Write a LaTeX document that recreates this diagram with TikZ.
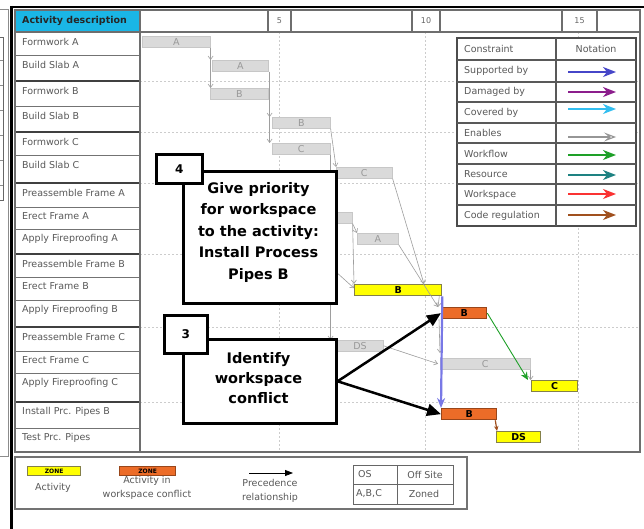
\documentclass[tikz,border=0pt]{standalone}
\usepackage{fontspec}
\usetikzlibrary{arrows.meta,calc}
\newfontfamily\dejavu{DejaVu Sans}
\newcommand\smallsans{\dejavu\fontsize{9.5}{13.5}\selectfont}
\newcommand\tinysans{\dejavu\fontsize{6}{7}\selectfont}
\newcommand\callsans{\dejavu\bfseries\fontsize{14.5}{21.5}\selectfont}
\newcommand\callsanstight{\dejavu\bfseries\fontsize{14.5}{20}\selectfont}

\definecolor{hdrcyan}{RGB}{26,182,230}
\definecolor{barfill}{RGB}{218,218,218}
\definecolor{zoneyellow}{RGB}{255,255,0}
\definecolor{zoneorange}{RGB}{236,108,40}
\definecolor{supblue}{RGB}{70,70,200}
\definecolor{linkblue}{RGB}{120,120,230}
\definecolor{dampurple}{RGB}{140,30,140}
\definecolor{covcyan}{RGB}{50,190,240}
\definecolor{enagray}{RGB}{150,150,150}
\definecolor{wfgreen}{RGB}{30,160,40}
\definecolor{resteal}{RGB}{30,130,130}
\definecolor{wsred}{RGB}{250,50,50}
\definecolor{codebrown}{RGB}{160,80,30}
\definecolor{framegray}{RGB}{110,110,110}

\tikzset{
  gridline/.style={draw=black!20, line width=0.6pt, dash pattern=on 2pt off 2pt},
  thinrule/.style={draw=black!55, line width=0.9pt},
  thickrule/.style={draw=black!75, line width=1.8pt},
  rowtext/.style={anchor=west, inner sep=0, font=\smallsans, text=black!65},
  bar/.style={anchor=north west, inner sep=0, minimum height=11pt, font=\smallsans},
  graybar/.style={bar, draw=black!22, fill=barfill, text=black!40, line width=0.6pt},
  yellowbar/.style={bar, draw=black!55!yellow, fill=zoneyellow, line width=1.3pt, font=\smallsans\bfseries},
  orangebar/.style={bar, draw=black!35!zoneorange, fill=zoneorange, line width=1.3pt, font=\smallsans\bfseries},
  link/.style={draw=black!38, line width=0.6pt, -{Straight Barb[length=3.5pt,width=5pt]}},
  callbox/.style={draw=black, line width=2.6pt, fill=white, anchor=north west, inner sep=0},
  tagbox/.style={draw=black, line width=2.6pt, fill=white, anchor=north west, inner sep=0,
    font=\dejavu\bfseries\fontsize{12}{14}\selectfont},
  calltext/.style={align=center, font=\callsans, inner sep=0},
  bigarrow/.style={draw=black, line width=2.5pt, -{Triangle[length=14pt,width=12pt]}},
  notearrow/.style={line width=1.5pt, -{Stealth[length=13pt,width=10pt,inset=4pt]}},
  notetext/.style={anchor=west, inner sep=0, font=\smallsans, text=black!65},
}

\begin{document}
\begin{tikzpicture}[x=1pt,y=-1pt]
\useasboundingbox (0,0) rectangle (644,529);
\fill[white] (0,0) rectangle (644,529);

% neighbouring sheet at the far left
\draw[black!45, line width=0.8pt] (0,9) -- (8,9) -- (8,456) -- (0,456);
\draw[black!60, line width=0.9pt] (0,37) -- (3,37) -- (3,200) -- (0,200);
\foreach \yy in {60,85,110,135,160,185} \draw[black!45, line width=0.6pt] (0,\yy) -- (3,\yy);

% sheet edges
\draw[black, line width=2.4pt] (11,7) -- (644,7);
\draw[black, line width=2.4pt] (11.5,6) -- (11.5,529);

% header row
\fill[hdrcyan] (15,10) rectangle (140,32);
\node[font=\smallsans\bfseries, text=black!85, anchor=west, inner sep=0] (hdr) at (22,21) {Activity description};
\foreach \xx in {268,291,412,440,562,597} \draw[framegray, line width=1.2pt] (\xx,10) -- (\xx,32);
\node[font=\dejavu\fontsize{8}{9}\selectfont, text=black!60, inner sep=0] (d5) at (279.5,21) {5};
\node[font=\dejavu\fontsize{8}{9}\selectfont, text=black!60, inner sep=0] (d10) at (426,21) {10};
\node[font=\dejavu\fontsize{8}{9}\selectfont, text=black!60, inner sep=0] (d15) at (579.5,21) {15};

% time grid
\foreach \xx in {279,425,578} \draw[gridline] (\xx,32) -- (\xx,452);
\foreach \yy in {81,132,183,254,327,402} \draw[gridline] (140,\yy) -- (640,\yy);

% activity list
\foreach \yy in {55,106,155,207,229,277,300,351,373,428} \draw[thinrule] (15,\yy) -- (140,\yy);
\foreach \yy in {81,132,183,254,327,402} \draw[thickrule] (15,\yy) -- (140,\yy);
\foreach \t/\yy/\n in {Formwork A/32/ra1, Build Slab A/55/ra2, Formwork B/81/rb1, Build Slab B/106/rb2,
  Formwork C/132/rc1, Build Slab C/155/rc2, Preassemble Frame A/183/rfa1, Erect Frame A/207/rfa2,
  Apply Fireproofing A/229/rfa3, Preassemble Frame B/254/rfb1, Erect Frame B/277/rfb2,
  Apply Fireproofing B/300/rfb3, Preassemble Frame C/327/rfc1, Erect Frame C/351/rfc2,
  Apply Fireproofing C/373/rfc3, Install Prc. Pipes B/402/rp1, Test Prc. Pipes/428/rp2}
  \node[rowtext] (\n) at (22,\yy+9.5) {\t};

% frame
\draw[framegray, line width=1.5pt] (15,10) rectangle (640,452);
\draw[framegray, line width=1.8pt] (15,32) -- (640,32);
\draw[framegray, line width=1.8pt] (140,10) -- (140,452);

% schedule bars
\node[graybar, minimum width=68pt] (fa) at (142,36) {A};
\node[graybar, minimum width=56pt] (sa) at (212,60) {A};
\node[graybar, minimum width=58pt] (fb) at (210,88) {B};
\node[graybar, minimum width=58pt] (sb) at (272,117) {B};
\node[graybar, minimum width=58pt] (fc) at (272,143) {C};
\node[graybar, minimum width=56pt] (sc) at (336,167) {C};
\node[graybar, minimum width=52pt] (ea) at (300,212) {A};
\node[graybar, minimum width=41pt] (fpa) at (357,233) {A};
\node[graybar, minimum width=83pt] (pc) at (300,340) {};
\node[inner sep=0, font=\smallsans, text=black!40] (pclab) at (360,346) {DS};
\node[graybar, minimum width=90pt] (ec) at (440,358) {C};
\node[yellowbar, minimum width=87pt] (eb) at (354,284) {B};
\node[orangebar, minimum width=45pt] (fpb) at (441,307) {B};
\node[yellowbar, minimum width=46pt] (fpc) at (531,380) {C};
\node[orangebar, minimum width=55pt] (ip) at (441,408) {B};
\node[yellowbar, minimum width=44pt] (tp) at (496,431) {DS};
\coordinate (pbend) at (325,262);

% precedence links
\draw[link] (fa.south east) -- (fa.south east |- sa.north);
\draw[link] (fa.south east) -- (fa.south east |- fb.north);
\draw[link] ($(sa.south east)+(1,0)$) -- ($(sa.south east |- sb.north)+(1,0)$);
\draw[link] ($(fb.south east)+(1,0)$) -- ($(fb.south east |- fc.north)+(1,0)$);
\draw[link] (sb.south east) -- (sc.north west);
\draw[link] (fc.south east) -- (fc.south east |- pc.north);
\draw[link] (sc.south east) -- ($(eb.north west)+(70,0)$);
\draw[link] (ea.south east) -- (fpa.north west);
\draw[link] (ea.south east) -- (eb.north west);
\draw[link] (pbend) -- ($(eb.west)+(0,-2)$);
\draw[link] (fpa.south east) -- ($(fpb.north west)+(-3,0)$);
\draw[link] ($(eb.south east)+(-3,0)$) -- ($(fpb.north west)+(-3,0)$);
\draw[link] ($(fpb.south west)+(-2,0)$) -- ($(ec.north west)+(0,-5)$);
\draw[link] (pc.east) -- ($(ec.west)+(-2,0)$);
\draw[link] (ec.south east) -- (ec.south east |- fpc.north);

% constraint links
\draw[wfgreen, line width=0.9pt, -{Stealth[length=8pt,width=7pt]}] (fpb.east) -- ($(fpc.north west)+(-3,0)$);
\draw[linkblue, line width=2.2pt, -{Stealth[length=10pt,width=8pt]}] (eb.south east) -- (ip.north west);
\draw[codebrown, line width=1.2pt, -{Stealth[length=5pt,width=4.5pt]}] ($(ip.south east)+(-2,0)$) -- ($(tp.north west)+(1,0)$);

% callouts
\node[callbox, minimum width=153pt, minimum height=132pt] (box4) at (182,170) {};
\node[calltext] (t4) at (258.5,232) {Give priority\\for workspace\\to the activity:\\Install Process\\Pipes B};
\node[tagbox, minimum width=46pt, minimum height=29pt] (tag4) at (155,153) {4};

\node[callbox, minimum width=153pt, minimum height=84pt] (box3) at (182,338) {};
\node[calltext, font=\callsanstight] (t3) at (258.5,378) {Identify\\workspace\\conflict};
\node[tagbox, minimum width=43pt, minimum height=38pt] (tag3) at (163,314) {3};

\draw[bigarrow] (box3.east) -- (fpb.west);
\draw[bigarrow] (box3.east) -- (ip.west);

% constraint notation table
\draw[fill=white, draw=black!70, line width=1.5pt] (457,38) rectangle (636,226);
\foreach \yy in {60,82,102,123,143,164,184,205} \draw[black!65, line width=1.2pt] (457,\yy) -- (636,\yy);
\draw[black!65, line width=1.2pt] (556,38) -- (556,226);
\node[notetext] (nh1) at (464,49) {Constraint};
\node[inner sep=0, font=\smallsans, text=black!65] (nh2) at (596,49) {Notation};
\foreach \t/\yy/\ay/\c/\n in {Supported by/71/72/supblue/n1, Damaged by/92/92/dampurple/n2,
  Covered by/112.5/109/covcyan/n3, Workflow/153.5/155/wfgreen/n5, Resource/174/175/resteal/n6,
  Workspace/194.5/194/wsred/n7, Code regulation/215.5/215/codebrown/n8}{
  \node[notetext] (\n) at (464,\yy) {\t};
  \coordinate (\n a) at (568,\ay);
  \coordinate (\n b) at (616,\ay);
  \draw[notearrow, \c] (\n a) -- (\n b);
}
\node[notetext] (n4) at (464,133) {Enables};
\coordinate (n4a) at (568,137);
\coordinate (n4b) at (616,137);
\draw[enagray, line width=1.1pt, -{Stealth[open, length=12pt, width=9pt, inset=5pt]}] (n4a) -- (n4b);

% symbol legend
\draw[draw=black!55, line width=1.6pt] (15,457) rectangle (467,509);
\node[yellowbar, minimum width=53pt, minimum height=9pt, font=\tinysans\bfseries] (lgy) at (27,466) {ZONE};
\node[inner sep=0, font=\smallsans, text=black!65] (lgyt) at (53,488) {Activity};
\node[orangebar, minimum width=56pt, minimum height=9pt, font=\tinysans\bfseries] (lgo) at (119,466) {ZONE};
\node[inner sep=0, align=center, font=\smallsans, text=black!65] (lgot) at (147,488) {Activity in\\workspace conflict};
\coordinate (lga1) at (249,473);
\coordinate (lga2) at (293,473);
\draw[black, line width=0.8pt, -{Triangle[length=8pt,width=6pt]}] (lga1) -- (lga2);
\node[inner sep=0, align=center, font=\smallsans, text=black!65] (lgat) at (270,491) {Precedence\\relationship};
\draw[black!60, line width=1pt] (353,465) rectangle (453,504);
\draw[black!60, line width=1pt] (397,465) -- (397,504);
\draw[black!60, line width=1pt] (353,484) -- (453,484);
\node[notetext] (lk1) at (358,474.5) {OS};
\node[inner sep=0, font=\smallsans, text=black!65] (lk2) at (425,474.5) {Off Site};
\node[notetext] (lk3) at (356,494) {A,B,C};
\node[inner sep=0, font=\smallsans, text=black!65] (lk4) at (424,494) {Zoned};
\end{tikzpicture}
\end{document}
